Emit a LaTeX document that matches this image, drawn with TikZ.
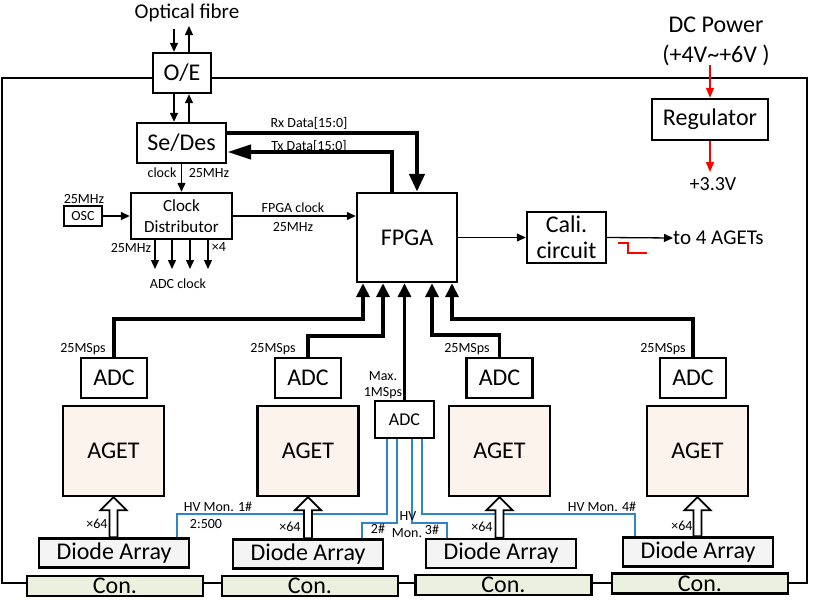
\documentclass[tikz,border=0pt]{standalone}
\usepackage{fontspec}
\setmainfont{Carlito}
\usetikzlibrary{arrows.meta,calc}
\definecolor{agetfill}{RGB}{252,243,237}
\definecolor{diodefill}{RGB}{244,244,244}
\definecolor{confill}{RGB}{235,241,222}
\definecolor{hvblue}{RGB}{46,134,200}
\tikzset{
  box/.style={draw, line width=2.4pt, inner sep=0pt, fill=white, align=center, font=\fontsize{24}{26}\selectfont},
  sbox/.style={box, line width=2pt},
  agetbox/.style={box, fill=agetfill},
  diodebox/.style={box, fill=diodefill},
  conbox/.style={box, fill=confill},
  lbl/.style={inner sep=0pt, font=\fontsize{14}{16}\selectfont, align=center},
  arr/.style={line width=1.3pt, -{Triangle[width=8pt,length=9pt]}},
  redarr/.style={red, line width=1.3pt, -{Triangle[width=8pt,length=10pt]}},
  bus/.style={line width=4.5pt},
  adcbus/.style={line width=3.8pt, -{Triangle[width=13pt,length=14pt]}},
  hvline/.style={hvblue, line width=1.3pt},
  hollow/.style={draw, fill=white, line width=1.8pt, line join=miter},
  frame/.style={line width=1.5pt}
}
\newcommand{\hollowup}[2]{%
  \draw[hollow] let \p1=(#1.north), \p2=(#2.south) in
    (\x2-4pt,\y1) -- (\x2-4pt,\y2-13pt) -- (\x2-13pt,\y2-13pt) -- (\x2,\y2)
    -- (\x2+13pt,\y2-13pt) -- (\x2+4pt,\y2-13pt) -- (\x2+4pt,\y1) -- cycle;}
\begin{document}
\begin{tikzpicture}[x=1pt,y=-1pt]
\useasboundingbox (0,0) rectangle (831,600);
% outer frame
\draw[frame] (2,78) rectangle (807,583);

% top left chain
\node[lbl, font=\fontsize{21}{23}\selectfont] (optf) at (187,13) {Optical fibre};
\node[box, minimum width=58pt, minimum height=40pt] (oe) at (182,73) {O/E};
\node[box, minimum width=89pt, minimum height=40pt] (sedes) at (181.5,143) {Se/Des};
\node[box, minimum width=101pt, minimum height=46pt, font=\fontsize{17}{21}\selectfont] (clkd) at (181.5,216) {Clock\\Distributor};
\node[sbox, minimum width=38pt, minimum height=20pt, font=\fontsize{14}{16}\selectfont] (osc) at (83,216) {OSC};
\node[box, minimum width=100pt, minimum height=89pt] (fpga) at (407,237.5) {FPGA};
\node[box, minimum width=79pt, minimum height=51pt] (cali) at (566.5,237.5) {Cali.\\circuit};
\node[box, minimum width=116pt, minimum height=41pt] (reg) at (710,119.5) {Regulator};

\coordinate (of1) at (174,29);
\coordinate (of2) at (189,26);
\draw[arr] (of1) -- (of1 |- oe.north);
\draw[arr] (of2 |- oe.north) -- (of2);
\draw[arr] (of1 |- oe.south) -- (of1 |- sedes.north);
\draw[arr] (of2 |- sedes.north) -- (of2 |- oe.south);

\draw[arr] (sedes.south) -- (clkd.north);
\node[lbl] (lclk) at (162,173) {clock};
\node[lbl] (lclk2) at (209,173) {25MHz};

\draw[arr] (osc) -- (clkd);
\node[lbl] (loscf) at (84,199) {25MHz};

\foreach \x [count=\i] in {155,172,190,208} {
  \coordinate (ck\i) at (\x,269);
  \draw[arr] (clkd.south -| ck\i) -- (ck\i);
}
\node[lbl] (lck25) at (131,248) {25MHz};
\node[lbl] (lck4) at (219,247) {×4};
\node[lbl] (ladcck) at (178,284) {ADC clock};

\draw[arr] (clkd.east) -- (fpga.west |- clkd.east);
\node[lbl] (lfck) at (293,208) {FPGA clock};
\node[lbl] (lfck2) at (293,227) {25MHz};

% Rx / Tx buses
\draw[bus, -{Triangle[width=15pt,length=18pt]}] ([yshift=10pt]sedes.east) -| ([xshift=10pt]fpga.north);
\draw[bus, -{Triangle[width=14pt,length=24pt]}] ([xshift=-15pt]fpga.north) |- ([yshift=-9pt]sedes.east);
\node[lbl] (lrx) at (309,123) {Rx Data[15:0]};
\node[lbl] (ltx) at (309,146) {Tx Data[15:0]};

% Cali
\draw[arr] (fpga.east) -- (cali.west);
\node[inner sep=0pt, anchor=west, font=\fontsize{21}{23}\selectfont] (to4) at (673,238) {to 4 AGETs};
\draw[arr] (cali.east) -- (to4.west);
\draw[red, line width=1.2pt] (618,243) -- (628,243) -- (628,253) -- (647,253);

% power
\node[lbl, font=\fontsize{24}{26}\selectfont] (dcp) at (716,25) {DC Power};
\node[lbl, font=\fontsize{24}{26}\selectfont] (dcr) at (716,55) {(+4V\textasciitilde+6V )};
\coordinate (dcin) at (710,65);
\coordinate (v33) at (710,172);
\draw[redarr] (dcin) -- (reg.north);
\draw[redarr] (reg.south) -- (v33);
\node[lbl, font=\fontsize{20}{22}\selectfont] (l33) at (713,184) {+3.3V};

% bottom channels
\foreach \i/\ax/\gx/\dx/\dy/\cx/\cy in {1/114/113.5/114/553/115/586, 2/308/308/308/554/310/586, 3/499.5/499.5/501/553.5/503.5/585, 4/693/697.5/698/552/700/583.5} {
  \node[box, minimum width=66pt, minimum height=40pt] (adc\i) at (\ax,378) {ADC};
  \node[agetbox, minimum width=101pt, minimum height=90pt] (aget\i) at (\gx,451) {AGET};
  \node[diodebox, minimum width=150pt, minimum height=29pt] (diode\i) at (\dx,\dy) {Diode Array};
  \node[conbox, minimum width=176pt, minimum height=20pt] (con\i) at (\cx,\cy) {Con.};
}
\node[sbox, minimum width=59pt, minimum height=37pt, font=\fontsize{18}{20}\selectfont] (sadc) at (404.5,419.5) {ADC};

% ADC buses to FPGA
\draw[adcbus] (adc1.north) -- ++(0,-38) -| ([xshift=-44pt]fpga.south);
\draw[adcbus] (adc2.north) -- ++(0,-21) -| ([xshift=-24pt]fpga.south);
\draw[adcbus] (sadc.north) -- (sadc.north |- fpga.south);
\draw[adcbus] (adc3.north) -- ++(0,-22) -| ([xshift=25pt]fpga.south);
\draw[adcbus] (adc4.north) -- ++(0,-38) -| ([xshift=45pt]fpga.south);

\node[lbl] (ls1) at (83,349) {25MSps};
\node[lbl] (ls2) at (273,349) {25MSps};
\node[lbl] (ls3) at (467,349) {25MSps};
\node[lbl] (ls4) at (663,349) {25MSps};
\node[lbl] (lmax) at (383,376) {Max.};
\node[lbl] (lmsps) at (383,393) {1MSps};

% HV monitor lines
\draw[hvline] ([xshift=-17.5pt]sadc.south) -- ++(0,75) -| ([xshift=63pt]diode1.north);
\draw[hvline] ([xshift=-7.5pt]sadc.south) -- ++(0,84) -| ([xshift=54pt]diode2.north);
\draw[hvline] ([xshift=7.5pt]sadc.south) -- ++(0,84) -| ([xshift=-54pt]diode3.north);
\draw[hvline] ([xshift=17.5pt]sadc.south) -- ++(0,75) -| ([xshift=-63pt]diode4.north);
\node[lbl] (lhv1) at (218,507) {HV Mon. 1\#};
\node[lbl] (lratio) at (206,524) {2:500};
\node[lbl] (lhv2) at (378,529) {2\#};
\node[lbl] (lhv3a) at (408,516) {HV};
\node[lbl] (lhv3b) at (407,533) {Mon.};
\node[lbl] (lhv3c) at (432,530) {3\#};
\node[lbl] (lhv4) at (602,507) {HV Mon. 4\#};

% hollow arrows
\foreach \i in {1,2,3,4} {\hollowup{diode\i}{aget\i}}
\node[lbl] (lx1) at (97,524) {×64};
\node[lbl] (lx2) at (290,527) {×64};
\node[lbl] (lx3) at (482,527) {×64};
\node[lbl] (lx4) at (682,526) {×64};
\end{tikzpicture}
\end{document}
